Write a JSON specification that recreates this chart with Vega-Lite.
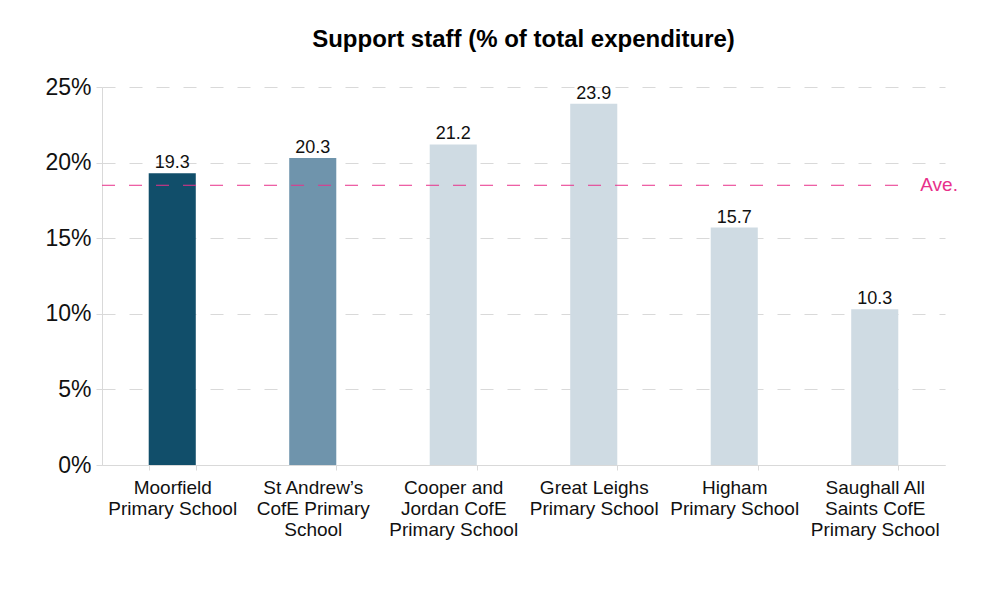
{
  "$schema": "https://vega.github.io/schema/vega-lite/v6.json",
  "autosize": {"type": "none"},
  "width": 843,
  "height": 378,
  "padding": {"left": 102, "top": 87, "right": 36, "bottom": 143},
  "background": "white",
  "config": {
    "font": "Liberation Sans",
    "view": {"stroke": null},
    "title": {"font": "Liberation Sans", "fontSize": 24, "fontWeight": "bold", "color": "#000000", "anchor": "middle", "offset": 24}
  },
  "title": "Support staff (% of total expenditure)",
  "datasets": {
    "schools": [
      {"school": "Moorfield Primary School", "value": 19.3, "group": "a"},
      {"school": "St Andrew's CofE Primary School", "value": 20.3, "group": "b"},
      {"school": "Cooper and Jordan CofE Primary School", "value": 21.2, "group": "c"},
      {"school": "Great Leighs Primary School", "value": 23.9, "group": "c"},
      {"school": "Higham Primary School", "value": 15.7, "group": "c"},
      {"school": "Saughall All Saints CofE Primary School", "value": 10.3, "group": "c"}
    ],
    "average": [
      {"label": "Ave.", "value": 18.5, "school": "Saughall All Saints CofE Primary School"}
    ]
  },
  "layer": [
    {
      "data": {"name": "schools"},
      "mark": {"type": "bar"},
      "encoding": {
        "x": {
          "field": "school", "type": "nominal", "sort": null,
          "scale": {"paddingInner": 0.665, "paddingOuter": 0.3325},
          "axis": {
            "title": null, "labelAngle": 0, "labelFontSize": 19, "labelColor": "#111111",
            "labelLineHeight": 21, "labelPadding": 8, "labelLimit": 200,
            "domainColor": "#d9d9d9", "tickColor": "#d9d9d9", "tickSize": 5, "tickBand": "extent",
            "labelExpr": "datum.value == 'Moorfield Primary School' ? ['Moorfield', 'Primary School'] : datum.value == \"St Andrew's CofE Primary School\" ? ['St Andrew’s', 'CofE Primary', 'School'] : datum.value == 'Cooper and Jordan CofE Primary School' ? ['Cooper and', 'Jordan CofE', 'Primary School'] : datum.value == 'Great Leighs Primary School' ? ['Great Leighs', 'Primary School'] : datum.value == 'Higham Primary School' ? ['Higham', 'Primary School'] : datum.value == 'Saughall All Saints CofE Primary School' ? ['Saughall All', 'Saints CofE', 'Primary School'] : ''"
          }
        },
        "y": {
          "field": "value", "type": "quantitative",
          "scale": {"domain": [0, 25], "nice": false},
          "axis": {
            "title": null, "values": [0, 5, 10, 15, 20, 25], "labelFontSize": 23, "labelColor": "#111111",
            "labelExpr": "datum.value + '%'", "labelPadding": 5,
            "domainColor": "#d9d9d9", "tickColor": "#d9d9d9", "tickSize": 6,
            "grid": true, "gridColor": "#d9d9d9", "gridDash": [13, 14], "gridWidth": 1
          }
        },
        "color": {
          "field": "group", "type": "nominal", "legend": null,
          "scale": {"domain": ["a", "b", "c"], "range": ["#114e6a", "#6f94ac", "#cfdbe3"]}
        }
      }
    },
    {
      "data": {"name": "schools"},
      "mark": {"type": "text", "baseline": "bottom", "dy": -1, "fontSize": 18, "color": "#111111"},
      "encoding": {
        "x": {"field": "school", "type": "nominal", "sort": null},
        "y": {"field": "value", "type": "quantitative"},
        "text": {"field": "value", "type": "quantitative", "format": ".1f"}
      }
    },
    {
      "data": {"name": "average"},
      "mark": {"type": "rule", "color": "#e8318a", "strokeDash": [13, 14], "strokeWidth": 1, "xOffset": -46.7, "x2Offset": 33},
      "encoding": {
        "x": {"datum": "Moorfield Primary School", "bandPosition": 0},
        "x2": {"datum": "Saughall All Saints CofE Primary School"},
        "y": {"field": "value", "type": "quantitative"}
      }
    },
    {
      "data": {"name": "average"},
      "mark": {"type": "text", "align": "left", "baseline": "middle", "dx": 22, "fontSize": 19, "color": "#e8318a"},
      "encoding": {
        "x": {"field": "school", "type": "nominal", "sort": null, "bandPosition": 1},
        "y": {"field": "value", "type": "quantitative"},
        "text": {"field": "label"}
      }
    }
  ]
}
